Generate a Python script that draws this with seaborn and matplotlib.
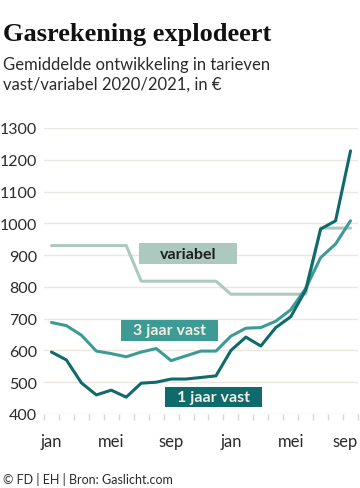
import numpy as np
import pandas as pd
import seaborn as sns
import matplotlib.pyplot as plt
from matplotlib.patches import Rectangle
from matplotlib.transforms import ScaledTranslation

# maandelijkse gemiddelden, jan 2020 t/m sep 2021
months = ['jan', 'feb', 'mrt', 'apr', 'mei', 'jun', 'jul', 'aug', 'sep', 'okt', 'nov', 'dec',
          'jan', 'feb', 'mrt', 'apr', 'mei', 'jun', 'jul', 'aug', 'sep']
variabel = [930, 930, 930, 930, 930, 930, 818, 818, 818, 818, 818, 818,
            777, 777, 777, 777, 777, 777, 985, 985, 985]
drie_jaar = [688, 678, 648, 598, 590, 580, 595, 606, 568, 583, 598, 598,
             645, 670, 672, 692, 728, 795, 892, 935, 1008]
een_jaar = [595, 570, 498, 460, 475, 453, 497, 500, 510, 510, 515, 520,
            600, 642, 614, 672, 706, 790, 982, 1008, 1228]

tick_labels = ['jan', 'mei', 'sep', 'jan', 'mei', 'sep']
tick_idx = [0, 4, 8, 12, 16, 20]

c_var = '#adc9bf'
c_drie = '#3c9c95'
c_een = '#0f6a6b'
grid_c = '#ece6e1'
txt_c = '#2b2b2b'

idx = np.arange(len(months))
df = pd.DataFrame({
    'maand': np.tile(idx, 3),
    'prijs': variabel + drie_jaar + een_jaar,
    'soort': ['variabel'] * len(idx) + ['3 jaar vast'] * len(idx) + ['1 jaar vast'] * len(idx),
})

sns.set_theme(style='white')
plt.rcParams['font.family'] = ['Lato', 'DejaVu Sans']

fig = plt.figure(figsize=(3.6, 4.89), dpi=100)
ax = fig.add_axes([44 / 360, 1 - 415 / 489, 314 / 360, 286 / 489])

sns.lineplot(data=df, x='maand', y='prijs', hue='soort',
             palette={'variabel': c_var, '3 jaar vast': c_drie, '1 jaar vast': c_een},
             hue_order=['variabel', '3 jaar vast', '1 jaar vast'],
             linewidth=2.2, legend=False, ax=ax)

ax.set_xlim(-0.5, 20.5)
ax.set_ylim(400, 1300)
ax.set_yticks(range(400, 1301, 100))
ax.set_xticks(tick_idx)
ax.set_xticklabels(tick_labels)
ax.set_xticks(np.arange(-0.5, 21, 1), minor=True)
ax.grid(axis='y', color=grid_c, linewidth=1)
ax.set_axisbelow(True)
for s in ax.spines.values():
    s.set_visible(False)
ax.set_xlabel('')
ax.set_ylabel('')
ax.tick_params(axis='y', length=0, labelsize=11.5, labelcolor=txt_c, pad=5)
ax.tick_params(axis='x', which='major', length=0, labelsize=12, labelcolor=txt_c, pad=14)
ax.tick_params(axis='x', which='minor', length=4, width=1, color='#dcd6d0', bottom=True)
ax.tick_params(axis='x', which='major', bottom=True)

# laatste 'sep' binnen de rand houden
last = ax.get_xticklabels()[-1]
last.set_horizontalalignment('right')
last.set_transform(last.get_transform() + ScaledTranslation(7 / 100, 0, fig.dpi_scale_trans))

# labels in kaders
labels = [
    ('variabel', 5.85, 872, 6.55, 66, c_var, '#1e1e1e'),
    ('3 jaar vast', 4.65, 630, 6.5, 66, c_drie, '#f4eee2'),
    ('1 jaar vast', 7.6, 422, 6.5, 63, c_een, '#f4eee2'),
]
for lab, x0, y0, w, h, fc, tc in labels:
    ax.add_patch(Rectangle((x0, y0), w, h, facecolor=fc, edgecolor='none', zorder=4))
    ax.text(x0 + w / 2, y0 + h / 2, lab, ha='center', va='center', fontsize=11.5,
            fontweight='bold', color=tc, zorder=5)

fig.text(3 / 360, 1 - 41 / 489, 'Gasrekening explodeert', family='Liberation Serif',
         fontweight='bold', fontsize=19, color='#111111', va='baseline')
fig.text(3 / 360, 1 - 70 / 489, 'Gemiddelde ontwikkeling in tarieven', fontsize=12,
         color=txt_c, va='baseline')
fig.text(3 / 360, 1 - 90 / 489, 'vast/variabel 2020/2021, in €', fontsize=12,
         color=txt_c, va='baseline')
fig.text(3 / 360, 1 - 484 / 489, '© FD | EH | Bron: Gaslicht.com', fontsize=9,
         color=txt_c, va='baseline')

fig.savefig('out.png', dpi=100)
